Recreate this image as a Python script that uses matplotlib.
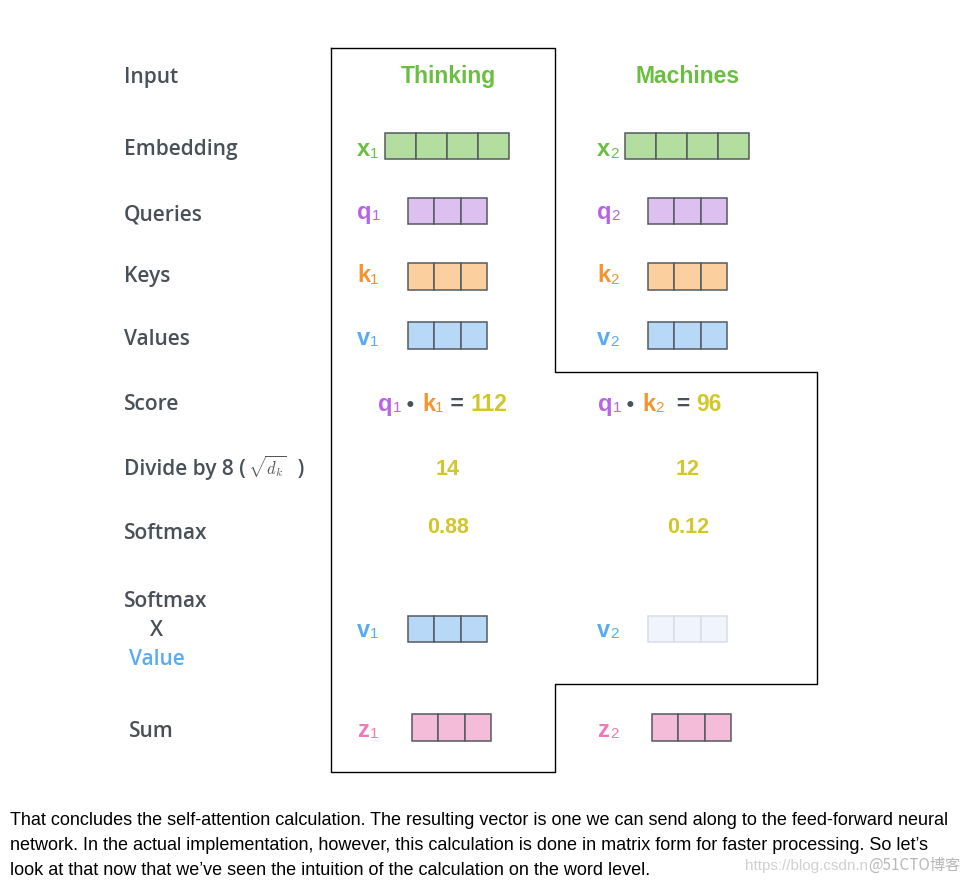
import matplotlib
matplotlib.use("Agg")
import matplotlib.pyplot as plt
from matplotlib.patches import Rectangle
from matplotlib.lines import Line2D

plt.rcParams['mathtext.fontset'] = 'cm'

# ---------------- data ----------------
row_labels = ["Input", "Embedding", "Queries", "Keys", "Values", "Score",
              "Divide by 8 (", "Softmax", "Softmax", "X", "Value", "Sum"]
words = ["Thinking", "Machines"]
embed_cells = 4
vec_cells = 3
scores = [112, 96]
score_keys = ["1", "2"]
divided = [14, 12]
softmax = [0.88, 0.12]
v_weight_alpha = [1.0, 0.15]
caption = ["That concludes the self-attention calculation. The resulting vector is one we can send along to the feed-forward neural",
           "network. In the actual implementation, however, this calculation is done in matrix form for faster processing. So let\u2019s",
           "look at that now that we\u2019ve seen the intuition of the calculation on the word level."]

# ---------------- style ----------------
GRAY = "#4a5058"
GREEN = "#6abf40"
PURPLE = "#b565e6"
ORANGE = "#f5942f"
BLUE = "#5aabf5"
PINK = "#ee7bb3"
YELLOW = "#d1c72a"
EDGE = "#555a60"
FILL = {"x": "#b3dea0", "q": "#dcc1f0", "k": "#fbcf9e", "v": "#b8d8f8", "z": "#f4bcd8"}
LBLC = {"x": GREEN, "q": PURPLE, "k": ORANGE, "v": BLUE, "z": PINK}

W, H = 974, 884
fig = plt.figure(figsize=(W / 100, H / 100), dpi=100)
ax = fig.add_axes([0, 0, 1, 1])
ax.set_xlim(0, W)
ax.set_ylim(H, 0)
ax.axis("off")
renderer = fig.canvas.get_renderer()

LAB = "Open Sans"
BOLD = "Liberation Sans"


def seq(x, y, parts, ha="left"):
    """parts: list of (text, color, size, weight, dy, family)"""
    arts = []
    for s, c, sz, wt, dy, fam in parts:
        t = ax.text(0, 0, s, color=c, fontsize=sz, fontweight=wt, family=fam,
                    ha="left", va="baseline")
        arts.append((t, dy))
    widths = [t.get_window_extent(renderer).width for t, _ in arts]
    total = sum(widths)
    cx = x - total / 2 if ha == "center" else x
    for (t, dy), w in zip(arts, widths):
        t.set_position((cx, y + dy))
        cx += w
    return arts


def vec_label(x, y, letter, idx):
    seq(x, y, [(letter, LBLC[letter], 17, "bold", 0, BOLD),
               (idx, LBLC[letter], 11, "normal", 1.5, BOLD)])


def vec_box(x0, x1, y0, y1, n, fill, edge, lw=1.1):
    cw = (x1 - x0) / n
    for i in range(n):
        ax.add_patch(Rectangle((x0 + i * cw, y0), cw, y1 - y0, facecolor=fill,
                               edgecolor=edge, linewidth=lw, zorder=2))


# ---------------- outline ----------------
ox = [331, 555, 555, 817, 817, 555, 555, 331, 331]
oy = [48, 48, 372, 372, 684, 684, 772, 772, 48]
ax.add_line(Line2D(ox, oy, color="black", linewidth=1.0, zorder=1))

# ---------------- row labels ----------------
lab_pos = [(124, 83), (124, 155), (124, 220), (124, 282), (124, 345), (124, 410),
           (124, 475), (124, 539), (124, 607), (150, 636), (129, 665), (129, 737)]
LSZ = 15
LW = 600
for i, (lbl, (lx, ly)) in enumerate(zip(row_labels, lab_pos)):
    col = BLUE if lbl == "Value" else GRAY
    if lbl.startswith("Divide"):
        seq(lx, ly, [(lbl, col, LSZ, LW, 0, LAB),
                     (" ", col, 6, "normal", 0, LAB),
                     (r"$\sqrt{d_k}$", "#555555", 12, "normal", -1, LAB),
                     ("  )", col, LSZ, LW, 0, LAB)])
    else:
        ax.text(lx, ly, lbl, color=col, fontsize=LSZ, fontweight=LW, family=LAB,
                ha="left", va="baseline")

# ---------------- columns ----------------
col_c = [448, 688]
lbl_x = [357, 597]
emb_x = [(385, 509), (625, 749)]
vec_x = [(408, 487), (648, 727)]
z_x = [(412, 491), (652, 731)]
for j in range(2):
    idx = str(j + 1)
    ax.text(col_c[j], 83, words[j], color=GREEN, fontsize=16.5, fontweight="bold",
            family=BOLD, ha="center", va="baseline")
    vec_label(lbl_x[j], 156, "x", idx)
    vec_box(*emb_x[j], 133, 159, embed_cells, FILL["x"], EDGE)
    vec_label(lbl_x[j], 219, "q", idx)
    vec_box(*vec_x[j], 198, 224, vec_cells, FILL["q"], EDGE)
    vec_label(lbl_x[j], 282, "k", idx)
    vec_box(*vec_x[j], 263, 290, vec_cells, FILL["k"], EDGE)
    vec_label(lbl_x[j], 345, "v", idx)
    vec_box(*vec_x[j], 322, 349, vec_cells, FILL["v"], EDGE)

    # score row
    sx = [378, 598][j]
    seq(sx, 411, [("q", PURPLE, 17, "bold", 0, BOLD),
                  ("1", PURPLE, 11, "normal", 1.5, BOLD),
                  (" \u2022 ", GRAY, 15, "bold", 0, BOLD),
                  (" ", GRAY, 6, "bold", 0, BOLD),
                  ("k", ORANGE, 17, "bold", 0, BOLD),
                  (score_keys[j], ORANGE, 11, "normal", 1.5, BOLD),
                  (" = " if j == 0 else "  = ", GRAY, 16.5, "bold", 0, BOLD),
                  (str(scores[j]), YELLOW, 16.5, "bold", 0, BOLD)])
    ax.text(col_c[j], 475, str(divided[j]), color=YELLOW, fontsize=15.5, fontweight="bold",
            family=BOLD, ha="center", va="baseline")
    ax.text(col_c[j], 533, f"{softmax[j]:.2f}", color=YELLOW, fontsize=15.5, fontweight="bold",
            family=BOLD, ha="center", va="baseline")

    # weighted values
    vec_label(lbl_x[j], 637, "v", idx)
    if v_weight_alpha[j] >= 1:
        vec_box(*vec_x[j], 616, 642, vec_cells, FILL["v"], EDGE)
    else:
        vec_box(*vec_x[j], 616, 642, vec_cells, "#f0f5fd", "#d9dee4")

    # sum
    vec_label(lbl_x[j] + 1, 737, "z", idx)
    vec_box(*z_x[j], 714, 741, vec_cells, FILL["z"], EDGE)

# ---------------- caption ----------------
target_w = 938
t0 = ax.text(10, 825, caption[0], fontsize=12, family="Liberation Sans", color="black",
             ha="left", va="baseline")
w0 = t0.get_window_extent(renderer).width
csz = 12 * target_w / w0
t0.set_fontsize(csz)
for k, line in enumerate(caption[1:], start=1):
    ax.text(10, 825 + 25 * k, line, fontsize=csz, family="Liberation Sans", color="black",
            ha="left", va="baseline")

# watermark
seq(745, 870, [("https://blog.csdn.n", "#d0d0d0", 11, "normal", 0, "Liberation Sans"),
               ("@51CTO\u535a\u5ba2", "#b8b8b8", 11, "normal", 0,
                ["Noto Sans CJK SC", "DejaVu Sans"])])

fig.savefig("out.png", dpi=100, facecolor="white")
